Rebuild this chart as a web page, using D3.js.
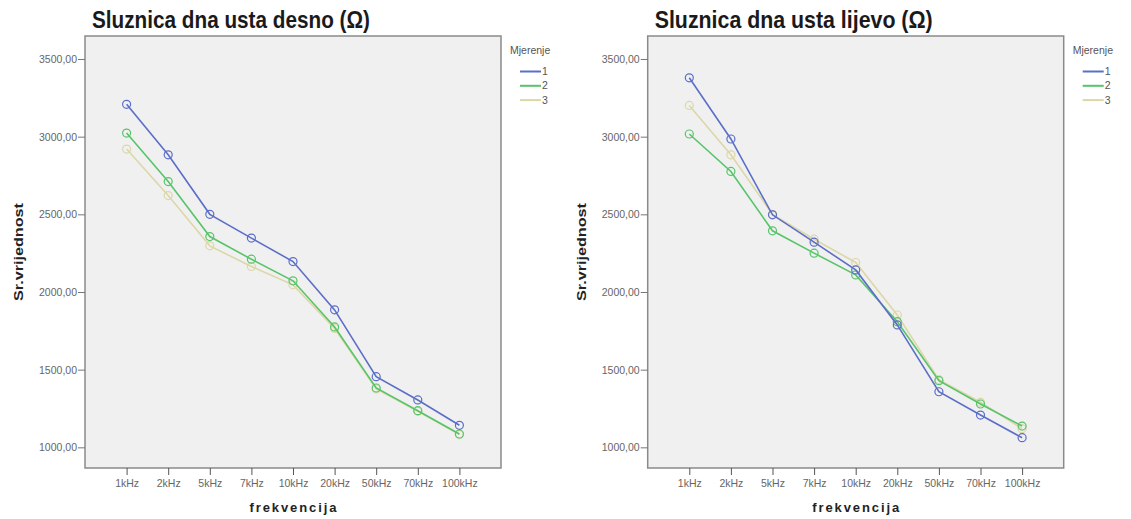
<!DOCTYPE html>
<html>
<head>
<meta charset="utf-8">
<script src="https://cdn.jsdelivr.net/npm/d3@7"></script>
<style>
  body { margin: 0; background: white; }
  text { font-family: "Liberation Sans", Arial, sans-serif; }
</style>
</head>
<body>
<script>
// categories on the x axis
var frequencies = ["1kHz", "2kHz", "5kHz", "7kHz", "10kHz", "20kHz", "50kHz", "70kHz", "100kHz"];
var measurements = ["1", "2", "3"];
var yTicks = [1000, 1500, 2000, 2500, 3000, 3500];

// Sluznica dna usta desno - mean per measurement
var desno1 = [3208, 2883, 2500, 2347, 2196, 1885, 1455, 1305, 1142];
var desno2 = [3023, 2711, 2357, 2211, 2072, 1775, 1382, 1236, 1086];
var desno3 = [2920, 2621, 2297, 2164, 2046, 1765, 1376, 1232, 1082];

// Sluznica dna usta lijevo
var lijevo1 = [3379, 2985, 2497, 2321, 2142, 1788, 1358, 1208, 1062];
var lijevo2 = [3017, 2776, 2394, 2250, 2110, 1809, 1429, 1279, 1137];
var lijevo3 = [3201, 2883, 2500, 2340, 2190, 1852, 1436, 1290, 1120];

var WIDTH = 1131, HEIGHT = 519;
var COLORS = ["#5b6ec8", "#58c46a", "#dcd7a8"];

var svg = d3.select("body").append("svg")
    .attr("width", WIDTH)
    .attr("height", HEIGHT);

var drawPanel = function(left, title, series) {
  var x0 = left, x1 = left + 416;
  var top = 36, bottom = 468;

  var x = d3.scalePoint().domain(frequencies).range([x0, x1]).padding(1);
  var y = d3.scaleLinear().domain([867, 3648]).range([bottom, top]);

  var g = svg.append("g");

  // plot background + frame
  g.append("rect")
    .attr("x", x0).attr("y", top)
    .attr("width", x1 - x0).attr("height", bottom - top)
    .style("fill", "#f0f0f0")
    .style("stroke", "#8a8a8a")
    .style("stroke-width", 1.5);

  var fmt = function(d) { return d3.format(".2f")(d).replace(".", ","); };

  var yAxis = g.append("g")
    .attr("transform", "translate(" + x0 + ",0)")
    .call(d3.axisLeft(y).tickValues(yTicks).tickSize(7).tickFormat(fmt));
  yAxis.select(".domain").remove();
  yAxis.selectAll("line").style("stroke", "#777");
  yAxis.selectAll("text").style("font-size", "10.5px").style("fill", "#666").attr("x", -8);

  var xAxis = g.append("g")
    .attr("transform", "translate(0," + bottom + ")")
    .call(d3.axisBottom(x).tickSize(7));
  xAxis.select(".domain").remove();
  xAxis.selectAll("line").style("stroke", "#555");
  xAxis.selectAll("text").style("font-size", "10.5px").style("fill", "#666").attr("y", 12);

  // lines, drawn back to front
  var line = d3.line()
    .x(function(d, i) { return x(frequencies[i]); })
    .y(function(d) { return y(d); });

  [2, 1, 0].forEach(function(k) {
    g.append("path")
      .datum(series[k])
      .attr("d", line)
      .style("fill", "none")
      .style("stroke", COLORS[k])
      .style("stroke-width", 1.6);
    g.selectAll(".pt" + k)
      .data(series[k])
      .enter().append("circle")
      .attr("cx", function(d, i) { return x(frequencies[i]); })
      .attr("cy", function(d) { return y(d); })
      .attr("r", 4)
      .style("fill", "none")
      .style("stroke", COLORS[k])
      .style("stroke-width", 1.2);
  });

  // title
  g.append("text")
    .attr("x", x0 + 7).attr("y", 28)
    .attr("textLength", 278).attr("lengthAdjust", "spacingAndGlyphs")
    .style("font-family", "'Liberation Sans Narrow', 'Arial Narrow', 'Liberation Sans', sans-serif")
    .style("font-weight", "bold")
    .style("font-size", "24px")
    .style("fill", "#1a1a1a")
    .text(title);

  // axis titles
  g.append("text")
    .attr("transform", "translate(" + (x0 - 62) + "," + ((top + bottom) / 2) + ") rotate(-90)")
    .attr("text-anchor", "middle")
    .attr("textLength", 98).attr("lengthAdjust", "spacingAndGlyphs")
    .style("font-weight", "bold").style("font-size", "13px").style("fill", "#222")
    .text("Sr.vrijednost");

  g.append("text")
    .attr("x", (x0 + x1) / 2).attr("y", 512)
    .attr("text-anchor", "middle")
    .attr("textLength", 87).attr("lengthAdjust", "spacing")
    .style("font-weight", "bold").style("font-size", "13px").style("fill", "#222")
    .text("frekvencija");

  // legend
  var lg = g.append("g").attr("transform", "translate(" + (x1 + 9) + ",0)");
  lg.append("text")
    .attr("x", 0).attr("y", 54)
    .style("font-size", "10.5px").style("fill", "#555")
    .text("Mjerenje");
  measurements.forEach(function(m, i) {
    var ly = 71.5 + i * 14.3;
    lg.append("line")
      .attr("x1", 10).attr("x2", 31)
      .attr("y1", ly).attr("y2", ly)
      .style("stroke", COLORS[i]).style("stroke-width", 2);
    lg.append("text")
      .attr("x", 32).attr("y", ly + 3.5)
      .style("font-size", "10.5px").style("fill", "#555")
      .text(m);
  });
};

drawPanel(85, "Sluznica dna usta desno (\u03A9)", [desno1, desno2, desno3]);
drawPanel(647.7, "Sluznica dna usta lijevo (\u03A9)", [lijevo1, lijevo2, lijevo3]);
</script>
</body>
</html>
